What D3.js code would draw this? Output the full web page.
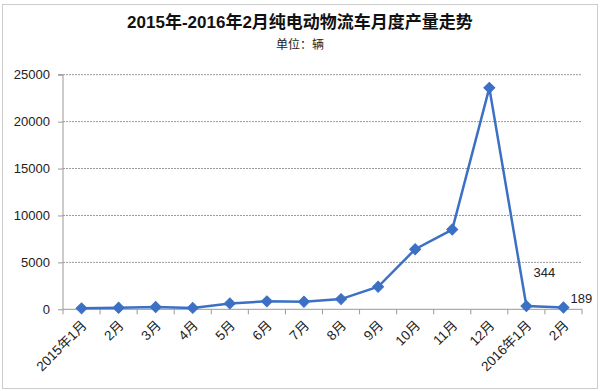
<!DOCTYPE html>
<html><head><meta charset="utf-8">
<script src="https://cdn.jsdelivr.net/npm/d3@7/dist/d3.min.js"></script>
<style>body{margin:0;background:#fff}</style>
</head><body><svg id="c" width="600" height="391"></svg>
<script>
const categories = ["2015年1月","2月","3月","4月","5月","6月","7月","8月","9月","10月","11月","12月","2016年1月","2月"];
const values = [100, 170, 250, 150, 630, 850, 800, 1090, 2400, 6400, 8500, 23600, 344, 189];
const yTicks = [0, 5000, 10000, 15000, 20000, 25000];
const labeled = {12: "344", 13: "189"};

const svg = d3.select("#c");
const font = "'Liberation Sans','Noto Sans CJK SC',sans-serif";
const blue = "#3b70c4";

// outer border
svg.append("rect").attr("x",2.5).attr("y",4.5).attr("width",595).attr("height",384)
  .attr("fill","none").attr("stroke","#999").attr("stroke-dasharray","1,1");

const L=63, R=582, T=74.7, B=309.3;
const idx = categories.map((c,i)=>i);
const x = d3.scaleBand().domain(idx).range([L,R]);
const y = d3.scaleLinear().domain([0,25000]).range([B,T]);

// grid
svg.append("g").selectAll("line").data(yTicks.slice(1)).join("line")
  .attr("x1",L).attr("x2",R).attr("y1",d=>y(d)).attr("y2",d=>y(d))
  .attr("stroke","#999").attr("stroke-dasharray","2,1");

// y axis
const ya = svg.append("g").attr("transform",`translate(${L},0)`)
  .call(d3.axisLeft(y).tickValues(yTicks).tickSize(5).tickPadding(8).tickFormat(d3.format("d")));
ya.select(".domain").attr("stroke","#999").attr("d",`M-5,${T}H0V${B}`);
ya.selectAll(".tick line").attr("stroke","#999");
ya.selectAll("text").attr("font-family",font).attr("font-size",13).attr("fill","#222");

// x axis
const xa = svg.append("g").attr("transform",`translate(0,${B})`);
xa.append("line").attr("x1",L).attr("x2",R).attr("y1",0).attr("y2",0).attr("stroke","#999");
const bounds = idx.map(i=>x(i)).concat([R]);
xa.selectAll("line.t").data(bounds).join("line").attr("class","t")
  .attr("x1",d=>d).attr("x2",d=>d).attr("y1",0).attr("y2",5).attr("stroke","#999");
xa.selectAll("text").data(idx).join("text")
  .attr("transform",i=>`translate(${x(i)+x.bandwidth()/2+6},${17}) rotate(-45)`)
  .attr("text-anchor","end").attr("font-family",font).attr("font-size",13.5).attr("fill","#222")
  .text(i=>categories[i]);

// line
const cx = i=>x(i)+x.bandwidth()/2;
svg.append("path").datum(values)
  .attr("d",d3.line().x((d,i)=>cx(i)).y(d=>y(d)))
  .attr("fill","none").attr("stroke",blue).attr("stroke-width",2.5);
svg.append("g").selectAll("path").data(values).join("path")
  .attr("d",d3.symbol(d3.symbolSquare,60))
  .attr("transform",(d,i)=>`translate(${cx(i)},${y(d)}) rotate(45)`)
  .attr("fill",blue).attr("stroke",blue);

// data labels
svg.append("g").selectAll("text").data(Object.keys(labeled).map(Number)).join("text")
  .attr("x",i=>cx(i)+18).attr("y",i=> i===12 ? y(values[i])-29 : y(values[i])-5)
  .attr("text-anchor","middle").attr("font-family",font).attr("font-size",13).attr("fill","#222")
  .text(i=>labeled[i]);

// titles
svg.append("text").attr("x",300).attr("y",28).attr("text-anchor","middle")
  .attr("font-family",font).attr("font-size",17).attr("font-weight","bold").attr("fill","#111")
  .text("2015年-2016年2月纯电动物流车月度产量走势");
svg.append("text").attr("x",300).attr("y",49).attr("text-anchor","middle")
  .attr("font-family",font).attr("font-size",12).attr("fill","#222")
  .text("单位：辆");
</script></body></html>
